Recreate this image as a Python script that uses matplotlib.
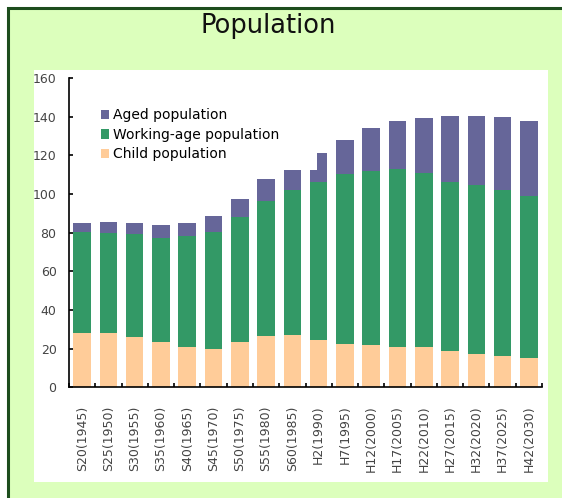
import matplotlib
matplotlib.use("Agg")
import matplotlib.pyplot as plt
from matplotlib.patches import Rectangle
import numpy as np

# population by age group (millions)
years = ["S20(1945)", "S25(1950)", "S30(1955)", "S35(1960)", "S40(1965)", "S45(1970)",
         "S50(1975)", "S55(1980)", "S60(1985)", "H2(1990)", "H7(1995)", "H12(2000)",
         "H17(2005)", "H22(2010)", "H27(2015)", "H32(2020)", "H37(2025)", "H42(2030)"]
child = [28.1, 28.1, 26.0, 23.4, 20.8, 19.8, 23.4, 26.5, 27.0,
         24.4, 22.4, 21.9, 20.8, 20.8, 18.8, 17.2, 16.2, 15.2]
working = [52.2, 51.6, 53.4, 53.9, 57.6, 60.5, 64.6, 69.8, 75.0,
           81.7, 88.0, 89.9, 92.0, 89.9, 87.3, 87.3, 85.9, 83.7]
aged = [4.6, 5.7, 5.5, 6.6, 6.5, 8.4, 9.3, 11.3, 10.3,
        6.2, 17.4, 22.2, 24.8, 28.5, 34.1, 35.7, 37.6, 38.7]
# leftover aged segment sitting on the 1990 bar
extra_idx = 9
extra_aged = 8.8

c_child = "#ffcc99"
c_work = "#339966"
c_aged = "#666699"

fig = plt.figure(figsize=(5.62, 4.98), dpi=100)
fig.patch.set_facecolor("white")

# green panel with dark frame (top and left edges visible)
fig.patches.append(Rectangle((8 / 562, -0.2), 1.2, 1.2 - 8 / 498,
                             transform=fig.transFigure, facecolor="#dcffbc",
                             edgecolor="#1d4d1d", linewidth=2.2, zorder=-2))
# white chart area
fig.patches.append(Rectangle((34 / 562, 1 - 482 / 498), (548 - 34) / 562, (482 - 70) / 498,
                             transform=fig.transFigure, facecolor="white",
                             edgecolor="none", zorder=-1))

fig.text(268 / 562, 1 - 33 / 498, "Population", ha="center", va="baseline",
         fontsize=18.5, color="#111111", family="DejaVu Sans")

ax = fig.add_axes([69 / 562, 1 - 387.3 / 498, (542 - 69) / 562, (387.3 - 78) / 498])
ax.set_facecolor("none")

x = np.arange(len(years))
w = 0.67
child_a = np.array(child)
work_a = np.array(working)
aged_a = np.array(aged)

b1 = ax.bar(x, child_a, w, color=c_child, label="Child population")
b2 = ax.bar(x, work_a, w, bottom=child_a, color=c_work, label="Working-age population")
b3 = ax.bar(x, aged_a, w, bottom=child_a + work_a, color=c_aged, label="Aged population")
ax.bar(x[extra_idx] + 0.145, extra_aged, 0.38,
       bottom=child_a[extra_idx] + work_a[extra_idx] + aged_a[extra_idx], color=c_aged)

ax.set_xlim(-0.5, len(years) - 0.5)
ax.set_ylim(0, 160)
ax.set_yticks(np.arange(0, 161, 20))
ax.set_xticks(x)
ax.set_xticklabels(years, rotation=90)
ax.set_xticks(np.arange(-0.5, len(years), 1), minor=True)

for s in ["top", "right"]:
    ax.spines[s].set_visible(False)
for s in ["left", "bottom"]:
    ax.spines[s].set_linewidth(1.2)
    ax.spines[s].set_color("black")

ax.tick_params(axis="y", direction="in", length=3, width=1.2, pad=9,
               labelsize=9, labelcolor="#444444")
ax.tick_params(axis="x", which="major", length=0, pad=13,
               labelsize=9, labelcolor="#444444")
ax.tick_params(axis="x", which="minor", direction="in", length=3, width=1.2)

ax.legend(handles=[b3, b2, b1], loc="upper left", bbox_to_anchor=(0.055, 0.92),
          frameon=False, fontsize=10, handlelength=0.6, handleheight=0.7,
          handletextpad=0.3, labelspacing=0.4, borderaxespad=0)

fig.savefig("out.png", dpi=100)
